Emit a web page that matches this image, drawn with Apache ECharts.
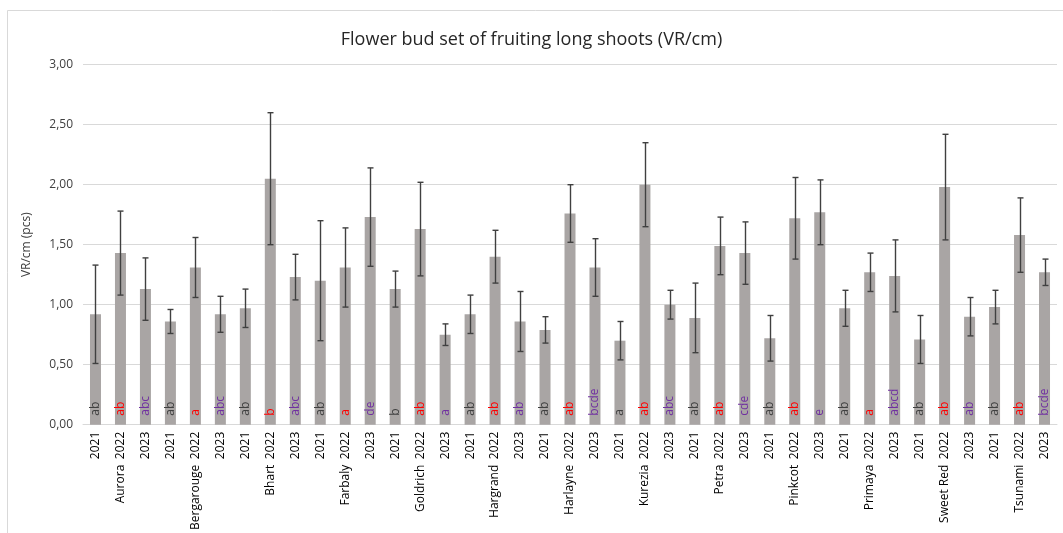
<!DOCTYPE html>
<html>
<head>
<meta charset="utf-8">
<script src="https://cdn.jsdelivr.net/npm/echarts@6/dist/echarts.min.js"></script>
<style>html,body{margin:0;padding:0;background:#fff;}#c{width:1063px;height:533px;}</style>
</head>
<body>
<div id="c"></div>
<script>
const cultivars = ['Aurora','Bergarouge','Bhart','Farbaly','Goldrich','Hargrand','Harlayne','Kurezia','Petra','Pinkcot','Primaya','Sweet Red','Tsunami'];
const years = ['2021','2022','2023'];
const means = [
  0.92, 1.43, 1.13,
  0.86, 1.31, 0.92,
  0.97, 2.05, 1.23,
  1.20, 1.31, 1.73,
  1.13, 1.63, 0.75,
  0.92, 1.40, 0.86,
  0.79, 1.76, 1.31,
  0.70, 2.00, 1.00,
  0.89, 1.49, 1.43,
  0.72, 1.72, 1.77,
  0.97, 1.27, 1.24,
  0.71, 1.98, 0.90,
  0.98, 1.58, 1.27
];
const errors = [
  0.41, 0.35, 0.26,
  0.10, 0.25, 0.15,
  0.16, 0.55, 0.19,
  0.50, 0.33, 0.41,
  0.15, 0.39, 0.09,
  0.16, 0.22, 0.25,
  0.11, 0.24, 0.24,
  0.16, 0.35, 0.12,
  0.29, 0.24, 0.26,
  0.19, 0.34, 0.27,
  0.15, 0.16, 0.30,
  0.20, 0.44, 0.16,
  0.14, 0.31, 0.11
];
const letters = [
  'ab','ab','abc',
  'ab','a','abc',
  'ab','b','abc',
  'ab','a','de',
  'b','ab','a',
  'ab','ab','ab',
  'ab','ab','bcde',
  'a','ab','abc',
  'ab','ab','cde',
  'ab','ab','e',
  'ab','a','abcd',
  'ab','ab','ab',
  'ab','ab','bcde'
];
const yTicks = [0, 0.5, 1, 1.5, 2, 2.5, 3];

const yearColors = {'2021':'#404040','2022':'#FF0000','2023':'#7030A0'};
const cats = [];
cultivars.forEach(c => years.forEach(y => cats.push(y)));

const chart = echarts.init(document.getElementById('c'));
chart.setOption({
  animation: false,
  backgroundColor: '#fff',
  title: {
    text: 'Flower bud set of fruiting long shoots (VR/cm)',
    left: 'center', top: 26,
    textStyle: {fontFamily: 'Open Sans', fontSize: 18, fontWeight: 'normal', color: '#262626'}
  },
  graphic: [{
    type: 'rect', silent: true,
    shape: {x: 7.5, y: 10.5, width: 1200, height: 700},
    style: {fill: 'none', stroke: '#D9D9D9', lineWidth: 1}
  }],
  grid: {left: 83, right: 6, top: 64.7, bottom: 105.3},
  xAxis: [{
    type: 'category', data: cats,
    axisLine: {lineStyle: {color: '#D9D9D9'}},
    axisTick: {show: false},
    axisLabel: {rotate: 90, margin: 7, fontSize: 12, color: '#000', fontFamily: 'Open Sans', interval: 0}
  }, {
    type: 'category', data: cultivars, position: 'bottom', offset: 33,
    axisLine: {show: false}, axisTick: {show: false},
    axisLabel: {rotate: 90, margin: 7, fontSize: 12, color: '#000', fontFamily: 'Open Sans', interval: 0}
  }],
  yAxis: {
    type: 'value', min: 0, max: 3, interval: 0.5,
    name: 'VR/cm (pcs)', nameLocation: 'middle', nameGap: 50, nameRotate: 90,
    nameTextStyle: {fontSize: 12, color: '#404040', fontFamily: 'Open Sans'},
    axisLine: {show: false}, axisTick: {show: false},
    axisLabel: {margin: 10, fontSize: 12, color: '#404040', fontFamily: 'Open Sans',
      formatter: v => yTicks.includes(v) ? v.toFixed(2).replace('.', ',') : ''},
    splitLine: {lineStyle: {color: '#D9D9D9', width: 1}}
  },
  series: [{
    type: 'bar', xAxisIndex: 0, data: means, barWidth: 11,
    itemStyle: {color: '#A9A5A4'}
  }, {
    type: 'custom', xAxisIndex: 0,
    data: means.map((m, i) => [i, m - errors[i], m + errors[i]]),
    renderItem: (params, api) => {
      const lo = api.coord([api.value(0), api.value(1)]);
      const hi = api.coord([api.value(0), api.value(2)]);
      const x = Math.round(lo[0]) + 0.5, hw = 3;
      const st = {stroke: '#404040', lineWidth: 1.4};
      return {type: 'group', children: [
        {type: 'line', shape: {x1: x, y1: lo[1], x2: x, y2: hi[1]}, style: st},
        {type: 'line', shape: {x1: x - hw, y1: lo[1], x2: x + hw, y2: lo[1]}, style: st},
        {type: 'line', shape: {x1: x - hw, y1: hi[1], x2: x + hw, y2: hi[1]}, style: st}
      ]};
    }, z: 5
  }, {
    type: 'custom', xAxisIndex: 0,
    data: means.map((m, i) => [i, 0]),
    renderItem: (params, api) => {
      const i = params.dataIndex;
      const p = api.coord([api.value(0), 0]);
      return {type: 'text', x: p[0], y: p[1] - 9, rotation: Math.PI / 2,
        style: {text: letters[i], fill: yearColors[cats[i]], fontSize: 12, fontFamily: 'Open Sans',
          align: 'left', verticalAlign: 'middle'}};
    }, z: 6
  }]
});
</script>
</body>
</html>
